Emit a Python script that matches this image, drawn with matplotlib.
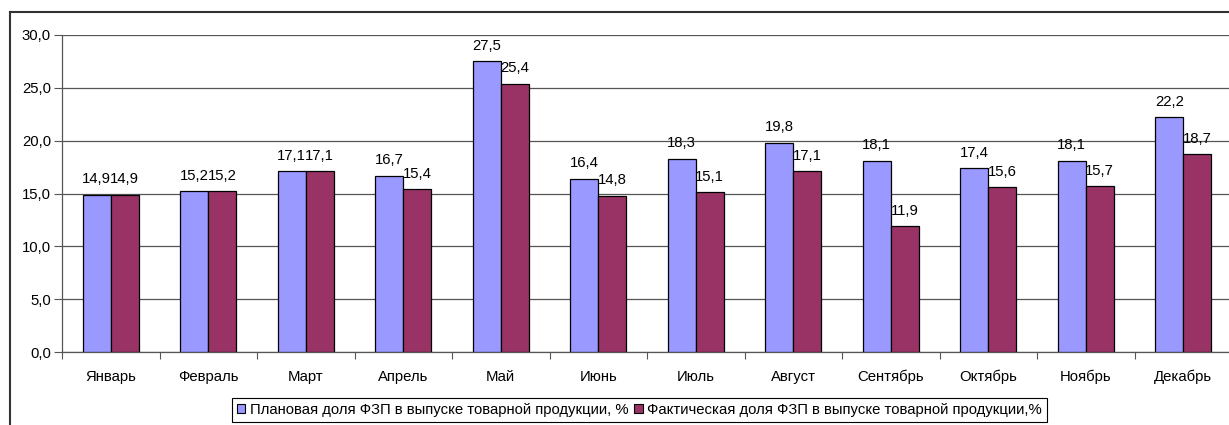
import matplotlib.pyplot as plt
import numpy as np
from matplotlib.lines import Line2D
from matplotlib.patches import Patch

plt.rcParams["font.family"] = ["Liberation Sans", "DejaVu Sans"]

months = ["Январь", "Февраль", "Март", "Апрель", "Май", "Июнь",
          "Июль", "Август", "Сентябрь", "Октябрь", "Ноябрь", "Декабрь"]
plan = [14.9, 15.2, 17.1, 16.7, 27.5, 16.4, 18.3, 19.8, 18.1, 17.4, 18.1, 22.2]
fact = [14.9, 15.2, 17.1, 15.4, 25.4, 14.8, 15.1, 17.1, 11.9, 15.6, 15.7, 18.7]
legend_labels = ["Плановая доля ФЗП в выпуске товарной продукции, %",
                 "Фактическая доля ФЗП в выпуске товарной продукции,%"]

PLAN_COLOR = "#9999FF"
FACT_COLOR = "#993366"
W, H = 1229, 425
FS = 10.7


def fmt(v):
    return f"{v:.1f}".replace(".", ",")


fig = plt.figure(figsize=(W / 100, H / 100), dpi=100)
ax = fig.add_axes([62 / W, (H - 352) / H, 1170 / W, 317 / H])

x = np.arange(len(months)) + 0.5
bw = 0.287
ax.bar(x - bw / 2, plan, bw, color=PLAN_COLOR, edgecolor="black", linewidth=0.9, zorder=3)
ax.bar(x + bw / 2, fact, bw, color=FACT_COLOR, edgecolor="black", linewidth=0.9, zorder=3)

for xi, p, f in zip(x, plan, fact):
    ax.annotate(fmt(p), (xi - bw / 2, p), xytext=(0, 6), textcoords="offset points",
                ha="center", va="bottom", fontsize=FS)
    ax.annotate(fmt(f), (xi + bw / 2, f), xytext=(0, 6), textcoords="offset points",
                ha="center", va="bottom", fontsize=FS)

ax.set_xlim(0, 12)
ax.set_ylim(0, 30)
ax.set_yticks(np.arange(0, 31, 5))
ax.set_yticklabels([fmt(v) for v in np.arange(0, 31, 5)], fontsize=FS)
ax.set_xticks(np.arange(0, 13))
ax.set_xticklabels([])
ax.set_xticks(x, minor=True)
ax.set_xticklabels(months, minor=True, fontsize=FS)
ax.tick_params(axis="x", which="minor", length=0, pad=13)
ax.tick_params(axis="x", which="major", length=5, color="#555555", direction="out")
ax.tick_params(axis="y", length=6, color="#555555", direction="out", pad=2)
ax.yaxis.grid(True, color="#555555", linewidth=0.9, zorder=0)
ax.set_axisbelow(True)
for s in ["top", "right"]:
    ax.spines[s].set_visible(False)
for s in ["left", "bottom"]:
    ax.spines[s].set_color("#555555")
    ax.spines[s].set_linewidth(0.9)

# outer chart frame (top and left visible)
fig.add_artist(Line2D([10 / W, 10 / W], [0, 1 - 12 / H], color="#333333", linewidth=1.5))
fig.add_artist(Line2D([10 / W, 1], [1 - 12 / H, 1 - 12 / H], color="#333333", linewidth=1.5))

handles = [Patch(facecolor=PLAN_COLOR, edgecolor="black", linewidth=0.8),
           Patch(facecolor=FACT_COLOR, edgecolor="black", linewidth=0.8)]
leg = fig.legend(handles, legend_labels, loc="upper left",
                 bbox_to_anchor=(232 / W, 1 - 398 / H), ncol=2, fontsize=FS,
                 frameon=True, fancybox=False, framealpha=1, edgecolor="black",
                 handlelength=0.55, handleheight=0.55, handletextpad=0.3,
                 columnspacing=0.4, borderpad=0.35, borderaxespad=0)
leg.get_frame().set_linewidth(0.8)

fig.savefig("out.png", dpi=100)
